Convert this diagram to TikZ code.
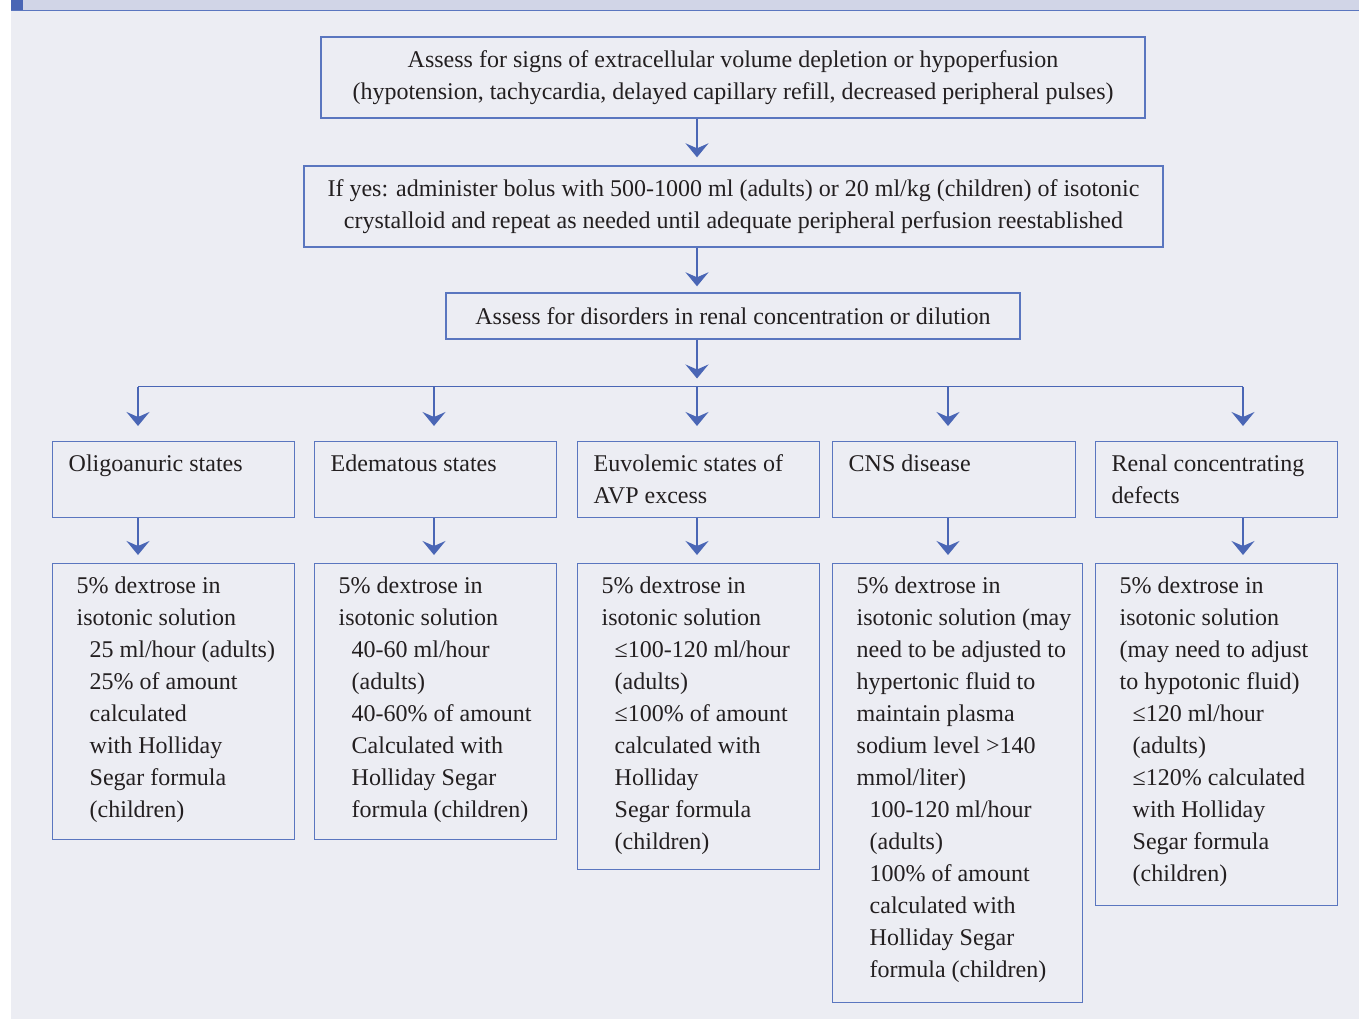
\documentclass[tikz,border=0pt]{standalone}
\usepackage{fontspec}
\setmainfont{Liberation Serif}
\usetikzlibrary{arrows.meta,positioning}
\definecolor{panelbg}{HTML}{ECEDF3}
\definecolor{bandbg}{HTML}{D1D5E7}
\definecolor{boxblue}{HTML}{5A76BF}
\definecolor{arrowblue}{HTML}{4A66B5}
\definecolor{inktext}{HTML}{231F20}

\begin{document}
\begin{tikzpicture}[x=1pt, y=-1pt, line width=1.4pt,
      every node/.append style={font=\fontsize{24}{32}\selectfont, text=inktext}]
    \tikzstyle{box} = [draw=boxblue, inner sep=0pt, align=center]
    \tikzstyle{cell} = [draw=boxblue, inner sep=0pt, anchor=north west]
    \tikzstyle{flow} = [draw=arrowblue, -{Stealth[length=14pt,width=23pt,inset=5pt]}]
    \useasboundingbox (0,0) rectangle (1359,1019);
    % panel and top band
    \fill[panelbg] (11,0) rectangle (1359,1019);
    \fill[bandbg] (11,0) rectangle (1359,10);
    \fill[arrowblue] (11,0) rectangle (23,10);
    \draw[boxblue] (11,10.5) -- (1359,10.5);
    % main chain
    \node[box, minimum width=824pt, minimum height=81pt] (assess) at (733,77.5)
      {Assess for signs of extracellular volume depletion or hypoperfusion\\
       (hypotension, tachycardia, delayed capillary refill, decreased peripheral pulses)};
    \node[box, minimum width=859pt, minimum height=81pt] (bolus) at (733.5,206.5)
      {If yes: administer bolus with 500-1000 ml (adults) or 20 ml/kg (children) of isotonic\\
       crystalloid and repeat as needed until adequate peripheral perfusion reestablished};
    \node[box, minimum width=574pt, minimum height=46pt] (renal) at (733,316)
      {Assess for disorders in renal concentration or dilution};
    \coordinate (axis) at (697,0);
    \foreach \n/\x in {1/138, 2/434, 3/697, 4/948, 5/1243}
      \coordinate (bus\n) at (\x,386.5);
    \draw[flow, shorten >=8pt] (assess.south -| axis) -- (bolus.north -| axis);
    \draw[flow, shorten >=6pt] (bolus.south -| axis) -- (renal.north -| axis);
    \draw[flow, shorten >=8pt] (renal.south -| axis) -- (bus3);
    \draw[arrowblue] (bus1) -- (bus5);
    % disorders
    \node[cell] (oligo) at (52,441) {\parbox[c][76pt][t]{242pt}{\raggedright\leftskip=16pt
      \rule{0pt}{30pt}Oligoanuric states}};
    \node[cell] (edema) at (314,441) {\parbox[c][76pt][t]{242pt}{\raggedright\leftskip=16pt
      \rule{0pt}{30pt}Edematous states}};
    \node[cell] (euvol) at (577,441) {\parbox[c][76pt][t]{242pt}{\raggedright\leftskip=16pt
      \rule{0pt}{30pt}Euvolemic states of\\AVP excess}};
    \node[cell] (cns) at (832,441) {\parbox[c][76pt][t]{243pt}{\raggedright\leftskip=16pt
      \rule{0pt}{30pt}CNS disease}};
    \node[cell] (rdef) at (1095,441) {\parbox[c][76pt][t]{242pt}{\raggedright\leftskip=16pt
      \rule{0pt}{30pt}Renal concentrating\\defects}};
    % fluids
    \node[cell] (oligofl) at (52,563) {\parbox[c][276pt][t]{242pt}{\raggedright
      \leftskip=24pt\rightskip=-20pt plus 1fil
      \rule{0pt}{30pt}5\% dextrose in\\isotonic solution\\
      \hspace*{13pt}25 ml/hour (adults)\\\hspace*{13pt}25\% of amount\\
      \hspace*{13pt}calculated\\\hspace*{13pt}with Holliday\\
      \hspace*{13pt}Segar formula\\\hspace*{13pt}(children)}};
    \node[cell] (edemafl) at (314,563) {\parbox[c][276pt][t]{242pt}{\raggedright
      \leftskip=24pt\rightskip=-20pt plus 1fil
      \rule{0pt}{30pt}5\% dextrose in\\isotonic solution\\
      \hspace*{13pt}40-60 ml/hour\\\hspace*{13pt}(adults)\\
      \hspace*{13pt}40-60\% of amount\\\hspace*{13pt}Calculated with\\
      \hspace*{13pt}Holliday Segar\\\hspace*{13pt}formula (children)}};
    \node[cell] (euvolfl) at (577,563) {\parbox[c][306pt][t]{242pt}{\raggedright
      \leftskip=24pt\rightskip=-20pt plus 1fil
      \rule{0pt}{30pt}5\% dextrose in\\isotonic solution\\
      \hspace*{13pt}≤100-120 ml/hour\\\hspace*{13pt}(adults)\\
      \hspace*{13pt}≤100\% of amount\\\hspace*{13pt}calculated with\\
      \hspace*{13pt}Holliday\\\hspace*{13pt}Segar formula\\\hspace*{13pt}(children)}};
    \node[cell] (cnsfl) at (832,563) {\parbox[c][439pt][t]{250pt}{\raggedright
      \leftskip=24pt\rightskip=-20pt plus 1fil
      \rule{0pt}{30pt}5\% dextrose in\\isotonic solution (may\\
      need to be adjusted to\\hypertonic fluid to\\maintain plasma\\
      sodium level >140\\mmol/liter)\\
      \hspace*{13pt}100-120 ml/hour\\\hspace*{13pt}(adults)\\
      \hspace*{13pt}100\% of amount\\\hspace*{13pt}calculated with\\
      \hspace*{13pt}Holliday Segar\\\hspace*{13pt}formula (children)}};
    \node[cell] (rdeffl) at (1095,563) {\parbox[c][342pt][t]{242pt}{\raggedright
      \leftskip=24pt\rightskip=-20pt plus 1fil
      \rule{0pt}{30pt}5\% dextrose in\\isotonic solution\\
      (may need to adjust\\to hypotonic fluid)\\
      \hspace*{13pt}≤120 ml/hour\\\hspace*{13pt}(adults)\\
      \hspace*{13pt}≤120\% calculated\\\hspace*{13pt}with Holliday\\
      \hspace*{13pt}Segar formula\\\hspace*{13pt}(children)}};
    % branch arrows
    \foreach \a/\b/\n in {oligo/oligofl/1, edema/edemafl/2, euvol/euvolfl/3, cns/cnsfl/4, rdef/rdeffl/5} {
      \draw[flow, shorten >=15pt] (bus\n) -- (\a.north -| bus\n);
      \draw[flow, shorten >=8pt] (\a.south -| bus\n) -- (\b.north -| bus\n);
    }
  \end{tikzpicture}
\end{document}
